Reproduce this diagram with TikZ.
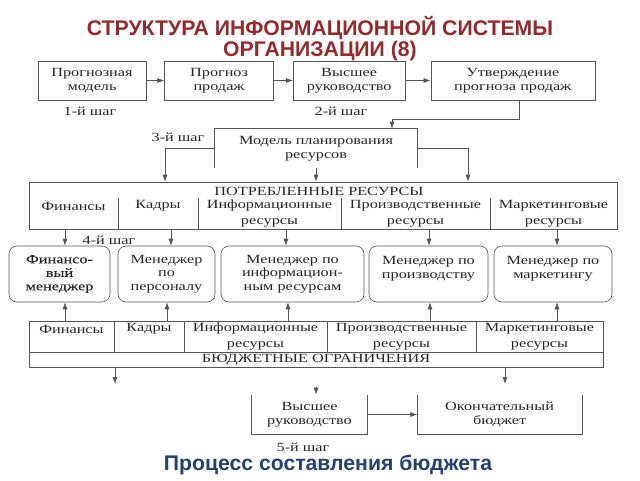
\documentclass[tikz,border=0pt]{standalone}
\usepackage{fontspec}
\setmainfont[FakeStretch=1.3]{Liberation Serif}
\newfontfamily\headfont{Liberation Sans}
\newfontfamily\boldserif[FakeStretch=1.3,FakeBold=0.2]{Liberation Serif}
\usetikzlibrary{arrows.meta}
\usetikzlibrary{positioning}
\tikzset{>={Latex[width=5pt,length=7pt]}}
\definecolor{titlered}{RGB}{148,42,46}
\definecolor{capblue}{RGB}{36,64,110}
\definecolor{linegray}{RGB}{85,85,85}

\begin{document}
\begin{tikzpicture}[x=1pt,y=-1pt,->,semithick,color=linegray,
		every node/.style={text=black!85}]
		\tikzstyle{box}=[draw,inner sep=0pt,align=center,minimum height=39pt,
			font=\fontsize{12.5}{14}\selectfont]
		\tikzstyle{openbox}=[box,draw=none]
		\tikzstyle{mgr}=[box,rounded corners=8pt,minimum height=56pt,
			font=\fontsize{12.5}{13.5}\selectfont]
		\tikzstyle{word}=[inner sep=0pt,align=center,font=\fontsize{12.5}{16}\selectfont]
		\tikzstyle{steptext}=[inner sep=0pt,font=\fontsize{12.5}{14}\selectfont]
		\tikzstyle{head}=[inner sep=0pt,font=\headfont\bfseries\fontsize{21.2}{24}\selectfont]
		
		\useasboundingbox (0,0) rectangle (640,480);
		
		\node[head,text=titlered] (title)  at (320,28) {СТРУКТУРА ИНФОРМАЦИОННОЙ СИСТЕМЫ};
		\node[head,text=titlered] (title2) at (320,51) {ОРГАНИЗАЦИИ (8)};
		
		% 1-й и 2-й шаг
		\node[box,minimum width=108pt] (fmodel) at (92,80.5) {Прогнозная\\модель};
		\node[box,minimum width=109pt,right=18pt of fmodel] (forecast) {Прогноз\\продаж};
		\node[box,minimum width=112pt,right=19pt of forecast] (topmgmt) {Высшее\\руководство};
		\node[box,minimum width=164pt,right=25pt of topmgmt] (approve) {Утверждение\\прогноза продаж};
		\path (fmodel) edge (forecast)
		      (forecast) edge (topmgmt)
		      (topmgmt) edge (approve);
		\node[steptext] (step1) at (90,111) {1-й шаг};
		\node[steptext] (step2) at (341,111) {2-й шаг};
		
		% 3-й шаг
		\node[openbox,minimum width=202pt] (plan) at (316,148.5) {Модель планирования\\ресурсов};
		\draw[-] (plan.south west) -- (plan.north west) -- (plan.north east) -- (plan.south east);
		\draw ([xshift=6pt]approve.south) -- ++(0,19) -| ([xshift=76pt]plan.north);
		\node[steptext] (step3) at (178,137) {3-й шаг};
		
		\node[draw,minimum width=588pt,minimum height=47pt,inner sep=0pt] (used) at (323,205.5) {};
		\node[word] (usedhead) at (319,191) {ПОТРЕБЛЕННЫЕ РЕСУРСЫ};
		\foreach \x in {118,198,341,490} \draw[-] (\x,198) -- (\x,229);
		\node[word] (ufin)   at (73.5,206)  {Финансы};
		\node[word] (ustaff) at (158,206)   {Кадры};
		\node[word] (uinfo)  at (269.5,214) {Информационные\\ресурсы};
		\node[word] (uprod)  at (415.5,214) {Производственные\\ресурсы};
		\node[word] (umark)  at (553.5,214) {Маркетинговые\\ресурсы};
		\draw (plan.west) -| ([xshift=-158pt]used.north);
		\draw (plan.east) -| ([xshift=145pt]used.north);
		\draw (plan.south) -- (plan.south |- used.north);
		
		% 4-й шаг
		\node[mgr,minimum width=101pt,font=\boldserif\fontsize{12.5}{13.5}\selectfont] (mfin) at (59.5,274) {Финансо-\\вый\\менеджер};
		\node[mgr,minimum width=97pt]  (mstaff) at (166.5,274) {Менеджер\\по\\персоналу};
		\node[mgr,minimum width=143pt] (minfo)  at (292.5,274) {Менеджер по\\информацион-\\ным ресурсам};
		\node[mgr,minimum width=119pt] (mprod)  at (428.5,274) {Менеджер по\\производству\\\mbox{}};
		\node[mgr,minimum width=118pt] (mmark)  at (553,274)   {Менеджер по\\маркетингу\\\mbox{}};
		\node[steptext] (step4) at (109,240) {4-й шаг};
		
		\node[draw,minimum width=574pt,minimum height=46pt,inner sep=0pt] (limits) at (316,344) {};
		\draw[-] ([yshift=-8pt]limits.west) -- ([yshift=-8pt]limits.east);
		\foreach \x in {114,184,327,476} \draw[-] (\x,321) -- (\x,352);
		\node[word] (bfin)   at (71.5,329)  {Финансы};
		\node[word] (bstaff) at (149,329)   {Кадры};
		\node[word] (binfo)  at (255.5,337) {Информационные\\ресурсы};
		\node[word] (bprod)  at (401.5,337) {Производственные\\ресурсы};
		\node[word] (bmark)  at (539.5,337) {Маркетинговые\\ресурсы};
		\node[word] (blimit) at (316,359.5) {БЮДЖЕТНЫЕ ОГРАНИЧЕНИЯ};
		
		\foreach \m/\dn/\up in {mfin/5.5/5.5,mstaff/4.5/0.5,minfo/-6.5/-4.5,mprod/0.5/1.5,mmark/4/4} {
			\draw ([xshift=\dn pt]\m.north |- used.south) -- ([xshift=\dn pt]\m.north);
			\draw ([xshift=\up pt]\m.south |- limits.north) -- ([xshift=\up pt]\m.south);
		}
		
		\coordinate (lend) at (115,384);
		\coordinate (rend) at (505,384);
		\draw (limits.south -| lend) -- (lend);
		\draw (limits.south -| rend) -- (rend);
		
		% 5-й шаг
		\node[openbox,minimum width=115pt] (exec) at (309.5,414.5) {Высшее\\руководство};
		\draw[-] (exec.north west) -- (exec.south west) -- (exec.south east) -- (exec.north east);
		\node[openbox,minimum width=164pt,right=50pt of exec] (final) {Окончательный\\бюджет};
		\draw[-] (final.north west) -- (final.south west) -- (final.south east) -- (final.north east);
		\path (exec) edge (final);
		\coordinate (gap) at (316,387);
		\draw (gap) -- (gap |- exec.north);
		\node[steptext] (step5) at (303,447) {5-й шаг};
		
		\node[head,text=capblue] (caption) at (328,465) {Процесс составления бюджета};
\end{tikzpicture}
\end{document}
